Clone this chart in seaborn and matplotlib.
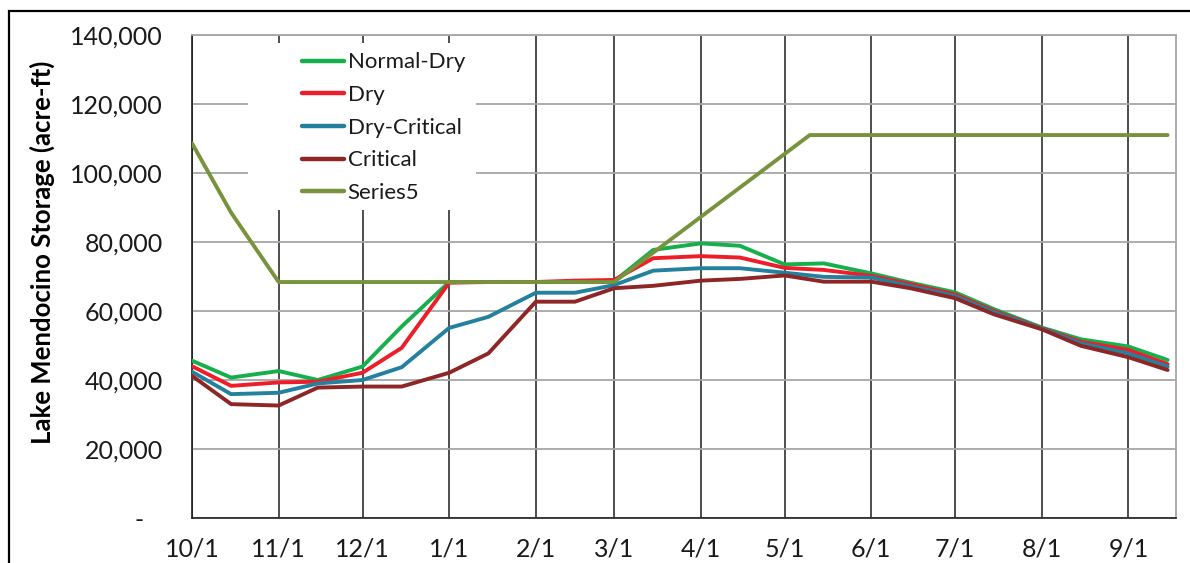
import matplotlib
matplotlib.use("Agg")
import matplotlib.pyplot as plt
import matplotlib.dates as mdates
from matplotlib.patches import Rectangle
from matplotlib.lines import Line2D
from matplotlib.ticker import FixedLocator, FuncFormatter
import pandas as pd
import seaborn as sns

# Semi-monthly operating dates across the water year
dates = ["2013-10-01", "2013-10-15", "2013-11-01", "2013-11-15", "2013-12-01", "2013-12-15",
         "2014-01-01", "2014-01-15", "2014-02-01", "2014-02-15", "2014-03-01", "2014-03-15",
         "2014-04-01", "2014-04-15", "2014-05-01", "2014-05-15", "2014-06-01", "2014-06-15",
         "2014-07-01", "2014-07-15", "2014-08-01", "2014-08-15", "2014-09-01", "2014-09-15"]

# Lake Mendocino storage (acre-ft) for each hydrologic condition
normal_dry = [45600, 40700, 42600, 40000, 43900, 55500, 68400, 68400, 68400, 68400, 68600, 77700,
              79600, 78900, 73500, 73800, 70900, 68200, 65400, 60500, 55200, 51800, 49700, 45800]
dry = [44000, 38300, 39300, 39500, 42100, 49300, 68200, 68400, 68400, 68800, 69000, 75300,
       75900, 75500, 72500, 71900, 70200, 67800, 64800, 60000, 55000, 51100, 48700, 44600]
dry_critical = [42400, 35900, 36300, 39000, 40000, 43700, 55100, 58300, 65300, 65300, 67500, 71700,
                72400, 72400, 71100, 69900, 69700, 67200, 64300, 59600, 54900, 50600, 47700, 43900]
critical = [41200, 33000, 32600, 37800, 38100, 38100, 42100, 47700, 62700, 62700, 66600, 67300,
            68800, 69300, 70300, 68500, 68500, 66600, 63700, 59000, 54700, 49900, 46600, 42900]

# Flood-control storage curve
curve_dates = ["2013-10-01", "2013-10-15", "2013-11-01", "2014-03-01", "2014-05-10", "2014-09-15"]
curve_values = [108600, 88500, 68400, 68400, 111000, 111000]

series_names = ["Normal-Dry", "Dry", "Dry-Critical", "Critical", "Series5"]
series_colors = ["#14B04C", "#EE1D2A", "#23819E", "#8E2626", "#77933C"]

month_ticks = ["2013-10-01", "2013-11-01", "2013-12-01", "2014-01-01", "2014-02-01", "2014-03-01",
               "2014-04-01", "2014-05-01", "2014-06-01", "2014-07-01", "2014-08-01", "2014-09-01"]
month_labels = ["10/1", "11/1", "12/1", "1/1", "2/1", "3/1", "4/1", "5/1", "6/1", "7/1", "8/1", "9/1"]
y_ticks = [0, 20000, 40000, 60000, 80000, 100000, 120000, 140000]

frames = []
for name, vals in zip(series_names[:4], [normal_dry, dry, dry_critical, critical]):
    frames.append(pd.DataFrame({"date": pd.to_datetime(dates), "storage": vals, "scenario": name}))
frames.append(pd.DataFrame({"date": pd.to_datetime(curve_dates), "storage": curve_values,
                            "scenario": "Series5"}))
df = pd.concat(frames, ignore_index=True)

sns.set_style("white")
plt.rcParams["font.family"] = ["Lato", "DejaVu Sans"]

fig = plt.figure(figsize=(11.9, 5.63), dpi=100)
ax = fig.add_axes([192 / 1190, 1 - 518 / 563, 984 / 1190, 483 / 563])

palette = dict(zip(series_names, series_colors))
sns.lineplot(data=df, x="date", y="storage", hue="scenario", hue_order=series_names,
             palette=palette, estimator=None, linewidth=2.8, legend=False, ax=ax, zorder=3)

ax.set_xlim(pd.Timestamp("2013-10-01"), pd.Timestamp("2014-09-18"))
ax.set_ylim(0, 140000)

ax.xaxis.set_major_locator(FixedLocator([mdates.date2num(pd.Timestamp(d)) for d in month_ticks]))
ax.set_xticklabels(month_labels)
ax.yaxis.set_major_locator(FixedLocator(y_ticks))
ax.yaxis.set_major_formatter(FuncFormatter(lambda v, p: "-   " if v == 0 else f"{int(v):,}"))

ax.set_axisbelow(True)
ax.grid(axis="y", color="#A6A6A6", linewidth=1.3)
ax.grid(axis="x", color="#1E1E1E", linewidth=1.1)
ax.tick_params(axis="both", length=0, labelsize=18, colors="#1A1A1A")
ax.tick_params(axis="y", pad=21)
ax.tick_params(axis="x", pad=14)

for side in ["left", "bottom"]:
    ax.spines[side].set_color("#1E1E1E")
    ax.spines[side].set_linewidth(1.2)
for side in ["top", "right"]:
    ax.spines[side].set_color("#A6A6A6")
    ax.spines[side].set_linewidth(1.3)

ax.set_xlabel("")
ax.set_ylabel("Lake Mendocino Storage (acre-ft)", fontsize=18.5, fontweight="bold",
              color="#000000", va="center")
ax.yaxis.set_label_coords(-0.152, 0.551)

# White panel behind the legend
ax.add_patch(Rectangle((0.057, 0.638), 0.232, 0.345, transform=ax.transAxes,
                       facecolor="white", edgecolor="none", zorder=1.5))

handles = [Line2D([0], [0], color=c, linewidth=3.2) for c in series_colors]
ax.legend(handles, series_names, loc="upper left", bbox_to_anchor=(0.112, 0.964),
          frameon=False, fontsize=16, handlelength=1.9, handletextpad=0.15,
          labelspacing=0.57, borderpad=0, borderaxespad=0, labelcolor="#1A1A1A")

# Outer frame around the chart
fig.add_artist(Rectangle((8.5 / 1190, -0.5), 2.0, 0.5 + 1 - 10.5 / 563,
                         transform=fig.transFigure, fill=False, edgecolor="black",
                         linewidth=1.6, clip_on=False))

fig.savefig("out.png", dpi=100)
